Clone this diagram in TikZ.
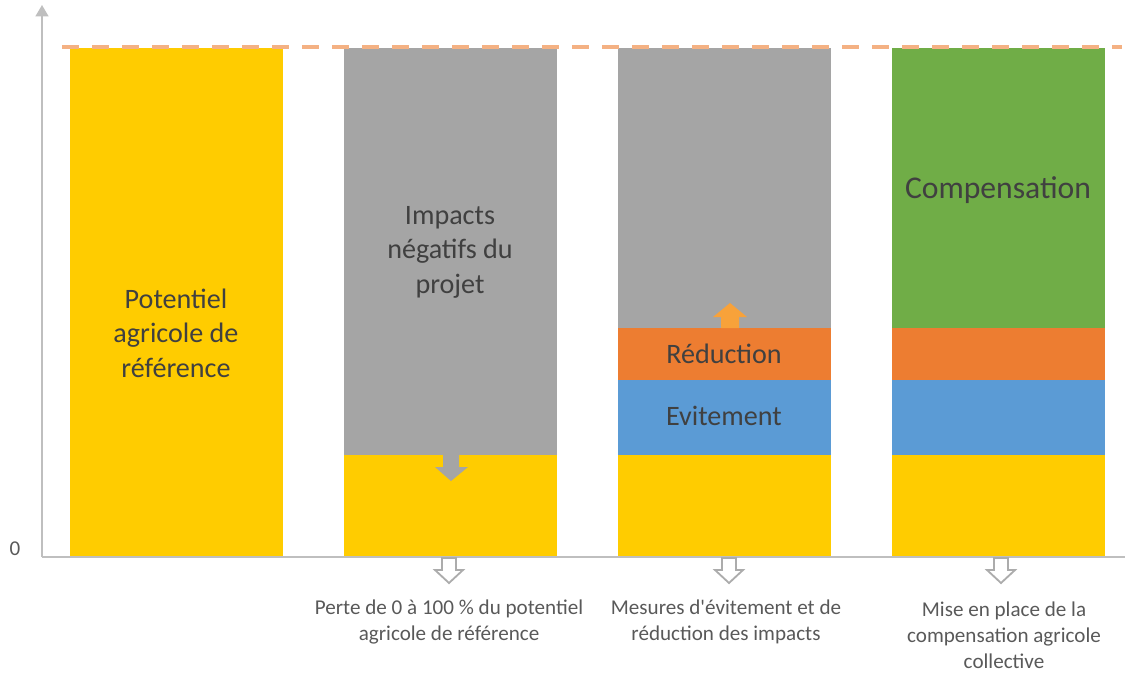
\documentclass[tikz,border=0pt]{standalone}
\usepackage{fontspec}
\setmainfont{Carlito}
\usetikzlibrary{arrows.meta}
\definecolor{jaune}{HTML}{FFCC00}
\definecolor{gris}{HTML}{A5A5A5}
\definecolor{orangec}{HTML}{ED7D31}
\definecolor{bleu}{HTML}{5B9BD5}
\definecolor{vert}{HTML}{70AD47}
\definecolor{saumon}{HTML}{F4B183}
\definecolor{flecheorange}{HTML}{F8A23A}
\definecolor{axe}{HTML}{BFBFBF}
\definecolor{texte}{HTML}{404040}
\definecolor{legende}{HTML}{595959}

\tikzset{
  barlabel/.style={text=texte,align=center,font=\fontsize{20}{24.5}\selectfont},
  legend/.style={text=legende,align=center,font=\fontsize{15}{18.4}\selectfont},
  hollowarrow/.style={draw=axe!90!black,line width=1.3pt,fill=white,line join=miter}
}
% open arrow under a bar, #1 = x of its middle
\newcommand{\hollowdown}[1]{%
  \path[hollowarrow] (#1-7,558) -- (#1+7,558) -- (#1+7,570) -- (#1+14,570) -- (#1,583)
     -- (#1-14,570) -- (#1-7,570) -- cycle;}

\begin{document}
\begin{tikzpicture}[x=0.025cm,y=-0.025cm]
        \useasboundingbox (0,0) rectangle (1129,672);
        % bars
        \path[fill=jaune] (70,48) rectangle (283,557);
        \path[fill=gris] (344,48) rectangle (557,455);
        \path[fill=jaune] (344,455) rectangle (557,557);
        \path[fill=gris] (618,48) rectangle (831,328);
        \path[fill=orangec] (618,328) rectangle (831,380);
        \path[fill=bleu] (618,380) rectangle (831,455);
        \path[fill=jaune] (618,455) rectangle (831,557);
        \path[fill=vert] (892,48) rectangle (1105,328);
        \path[fill=orangec] (892,328) rectangle (1105,380);
        \path[fill=bleu] (892,380) rectangle (1105,455);
        \path[fill=jaune] (892,455) rectangle (1105,557);
        % small arrows inside the bars
        \path[fill=gris] (443,455) -- (443,467) -- (435,467) -- (451,481) -- (468,467) -- (459,467) -- (459,455) -- cycle;
        \path[fill=flecheorange] (721,328) -- (721,317) -- (713,317) -- (730,303) -- (747,317) -- (739,317) -- (739,328) -- cycle;
        % reference level
        \draw[saumon,line width=2.8pt,dash pattern=on 0.425cm off 0.325cm] (62,47) -- (1122,47);
        % axes
        \draw[axe,line width=1.4pt] (42,557) -- (1125,557);
        \draw[axe,line width=1.4pt,-{Triangle[width=9pt,length=8pt]}] (42,557) -- (42,5);
        \node[legend] (zero) at (15,549) {0};
        % labels in the bars
        \node[barlabel] (potentiel) at (176,333) {Potentiel\\agricole de\\référence};
        \node[barlabel] (impacts) at (450,252) {Impacts\\négatifs du\\projet};
        \node[barlabel] (reduction) at (724,354) {Réduction};
        \node[barlabel] (evitement) at (724,416) {Evitement};
        \node[barlabel,font=\fontsize{22.5}{27}\selectfont] (compensation) at (998,190) {Compensation};
        % below the axis
        \hollowdown{449}
        \hollowdown{729}
        \hollowdown{1001}
        \node[legend] (perte) at (449,622) {Perte de 0 à 100 \% du potentiel\\agricole de référence};
        \node[legend] (mesures) at (726,622) {Mesures d\textquotesingle évitement et de\\réduction des impacts};
        \node[legend] (miseenplace) at (1004,635) {Mise en place de la\\compensation agricole\\collective};
\end{tikzpicture}
\end{document}
